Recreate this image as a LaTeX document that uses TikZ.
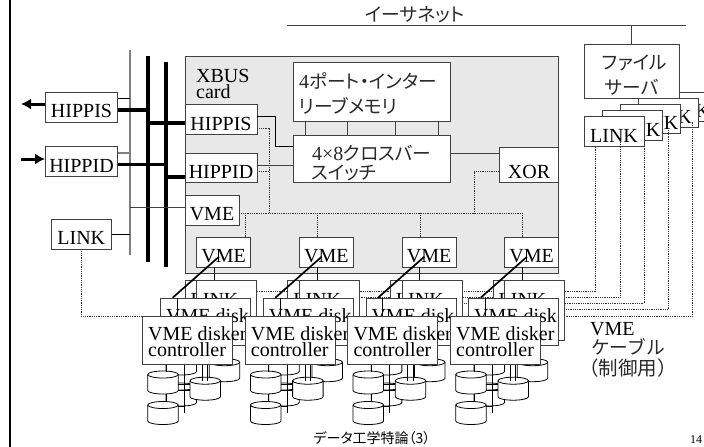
\documentclass[tikz,border=0pt]{standalone}
\usepackage{fontspec}
\setmainfont{Liberation Serif}
\newfontfamily\cjk[RawFeature=+palt]{Noto Sans CJK JP}
\newfontfamily\cjkfull{Noto Sans CJK JP}
\usepackage{xcolor}
\usetikzlibrary{arrows.meta,positioning}
\definecolor{cardgray}{HTML}{E8E8E8}
\definecolor{linegray}{HTML}{404040}
\definecolor{bargray}{HTML}{808080}
\definecolor{jptext}{HTML}{2A2A2A}
\newcommand{\jp}[1]{{\cjk\color{jptext}\fontsize{18.7}{18.7}\selectfont #1}}
\begin{document}
\begin{tikzpicture}[
  x=1pt,y=-1pt,
  base/.style={draw=linegray,line width=0.9pt,fill=white,inner sep=0pt,font=\fontsize{20}{20}\selectfont},
  lowbox/.style={base,text height=24pt,text depth=3pt},
  smallbox/.style={lowbox,minimum width=72pt,minimum height=29.5pt},
  vmebox/.style={lowbox,minimum width=54pt,minimum height=29.5pt},
  linkbox/.style={lowbox,minimum width=60pt,minimum height=29.5pt},
  ctrlbox/.style={base,minimum width=90pt,minimum height=47.5pt},
  word/.style={inner sep=0pt,font=\fontsize{20}{20}\selectfont},
  jpword/.style={inner sep=0pt},
  wire/.style={draw=black,line width=0.8pt},
  greywire/.style={draw=linegray,line width=1pt},
  dots/.style={draw=black!80,line width=0.8pt,dash pattern=on 0.9pt off 0.9pt},
  bus/.style={draw=black,line width=3.8pt},
  thin bus/.style={draw=bargray,line width=1.3pt},
  arr/.style={-{Latex[length=10pt,width=11pt]},line width=3pt,draw=black},
  pics/disk/.style={code={
    \draw[draw=black,line width=0.8pt,fill=white] (-15.25,-8) -- (-15.25,8)
      arc[start angle=180,end angle=360,x radius=15.25pt,y radius=3.5pt] -- (15.25,-8)
      arc[start angle=0,end angle=180,x radius=15.25pt,y radius=3.5pt];
    \draw[draw=black,line width=0.8pt] (-15.25,-8)
      arc[start angle=180,end angle=360,x radius=15.25pt,y radius=3.5pt];
  }}
]
\clip (0,0) rectangle (704,447);
\fill[white] (0,0) rectangle (704,447);
\draw[line width=2.6pt] (10,0) coordinate (railtop) -- (10,447) coordinate (railbot);

% ethernet
\coordinate (etherl) at (287,25.5);
\coordinate (etherr) at (686,25.5);
\draw[greywire] (etherl) -- (etherr);
\node[jpword] (ethertext) at (415,15) {\jp{イーサネット}};

% file server and its links
\node[linkbox] (flink5) at (686,107) {LINK};
\node[linkbox] (flink4) at (668,113) {LINK};
\node[linkbox] (flink3) at (650,119) {\hspace*{9pt}LINK};
\node[linkbox] (flink2) at (632,125.5) {\hspace*{9pt}LINK};
\node[linkbox] (flink1) at (614,131.5) {LINK};
\node[base,minimum width=95pt,minimum height=54pt] (server) at (631.5,71) {};
\node[jpword] (servera) at (634.5,63) {\jp{ファイル}};
\node[jpword] (serverb) at (631.5,87) {\jp{サーバ}};
\draw[greywire] (server.north |- etherl) -- (server.north);

% left side buses
\coordinate (busa) at (130,50);
\coordinate (busb) at (148,56);
\coordinate (busc) at (166,62);
\draw[thin bus] (busa) -- (130,255);
\draw[bus] (busb) -- (148,262);
\draw[bus] (busc) -- (166,267);

% left side adapters
\node[smallbox] (hippisout) at (81.5,107.25) {HIPPIS};
\node[smallbox] (hippidout) at (81.5,161.5) {HIPPID};
\node[linkbox] (linkout) at (81.3,234.25) {LINK};
\coordinate (outtip) at (21,104);
\coordinate (intail) at (21,159);
\draw[arr] (hippisout.west |- outtip) -- (outtip);
\draw[arr] (intail) -- (intail -| hippidout.west);
\draw[wire] (hippisout.east |- 0,98) -- (busa |- 0,98);
\draw[bus,line width=3.5pt] (hippisout.east |- 0,110) -- (busb |- 0,110);
\draw[thin bus] (hippidout.east |- 0,153) -- (busa |- 0,153);
\draw[bus,line width=3.5pt] (hippidout.east |- 0,164.5) -- (busc |- 0,164.5);
\draw[wire] (linkout.east) -- (linkout.east -| busa);

% xbus card
\node[draw=linegray,line width=1pt,fill=cardgray,inner sep=0pt,minimum width=373.7pt,minimum height=216.8pt] (card) at (371.85,164.9) {};
\node[word,anchor=base west] (xbustext) at (196,82.5) {XBUS};
\node[word,anchor=base west] (cardtext) at (196,98) {card};
\node[smallbox] (hippisin) at (221,119.5) {HIPPIS};
\node[smallbox] (hippidin) at (221,168) {HIPPID};
\node[vmebox] (vmein) at (212,210.25) {VME};
\node[base,minimum width=156.7pt,minimum height=59.4pt] (memory) at (371.65,92) {};
\node[base,minimum width=156.7pt,minimum height=47.3pt] (crossbar) at (371.65,158.65) {};
\node[jpword,anchor=west] (memorya) at (299,81) {\jp{\rmfamily\fontsize{20}{20}\selectfont 4\cjk\fontsize{18.7}{18.7}\selectfont ポート・インター}};
\node[jpword,anchor=west] (memoryb) at (299,106) {\jp{リーブメモリ}};
\node[jpword,anchor=west] (crossa) at (312,153) {\jp{\rmfamily\fontsize{20}{20}\selectfont 4×8\cjk\fontsize{18.7}{18.7}\selectfont クロスバー}};
\node[jpword,anchor=west] (crossb) at (311,173) {\jp{スイッチ}};
\node[lowbox,text height=31pt,minimum width=59.7pt,minimum height=35.5pt] (xor) at (529,164.75) {XOR};

\foreach \xp in {305,347.3,395.7,438.3}
  \draw[greywire] (memory.south -| \xp,0) -- (crossbar.north -| \xp,0);
\draw[wire] (hippisin.east |- 0,116.5) -| (275,146.7) -- (crossbar.west |- 0,146.7);
\draw[greywire] (hippidin.east |- 0,165) -- (crossbar.west |- 0,165);
\draw[greywire] (crossbar.east |- 0,153) -- (xor.west |- 0,153);
\draw[bus,line width=3.5pt] (busb |- 0,123) -- (hippisin.west |- 0,123);
\draw[bus,line width=3.5pt] (busc |- 0,177) -- (hippidin.west |- 0,177);
\draw[greywire] (busa |- 0,207) -- (vmein.west |- 0,207);

% dotted control lines on the card
\draw[dots] (vmein.east |- 0,213) -- (522.7,213);
\draw[dots] (hippisin.east |- 0,128) -- (269,128) -- (269,213);
\draw[dots] (hippidin.east |- 0,171) -- (269,171);
\draw[dots] (xor.west |- 0,171) -- (474,171) -- (474,213);
\foreach \xp in {245,317.5,420,522.7}
  \draw[dots] (\xp,213) -- (\xp,238);

% dotted vme cable, behind the stacks
\draw[dots] (linkout.south) |- (692.5,316) -- (flink5.south -| 692.5,0);
\draw[dots] (230,291.5) -- (595.5,291.5) -- (flink1.south -| 595.5,0);
\draw[dots] (330,297.5) -- (620,297.5) -- (flink2.south -| 620,0);
\draw[dots] (430,303.5) -- (644,303.5) -- (flink3.south -| 644,0);
\draw[dots] (530,309.5) -- (668.3,309.5) -- (flink4.south -| 668.3,0);

% the four disk groups
\foreach \i/\dx in {1/0,2/102.67,3/205.33,4/308} {
  \begin{scope}[xshift=\dx pt]
    \node[vmebox] (vme\i) at (223.7,252.2) {VME};
    \node[base,minimum width=60pt,minimum height=60pt] (linkback\i) at (215,310) {};
    \node[base,minimum width=60pt,minimum height=60pt] (linkfront\i) at (226.7,310) {};
    \node[word,anchor=base] (linktext\i) at (214.5,306) {LINK};
    \draw[wire] (vme\i.south -| 214.3,0) -- (linkfront\i.north -| 214.3,0);
    \node[base,minimum width=90pt,minimum height=47pt] (ctlback\i) at (205.7,321.8) {};
    \node[word,anchor=base west] (ctlbacktext\i) at (166,322) {VME disk};
    \draw[wire] (ctlback\i.north -| 177.5,0) -- (177.5,316.7);
    \draw[line width=1.7pt] (219,256.7) -- (172.7,297.7);
    % disks first, the controller covers their tops
    \pic at (181.3,363.5) {disk};
    \pic at (224.5,370.2) {disk};
    \pic at (181.3,394.5) {disk};
    \node[ctrlbox] (ctl\i) at (187.3,340.3) {};
    \node[word,anchor=base west] (ctltexta\i) at (148,340) {VME disker};
    \node[word,anchor=base west] (ctltextb\i) at (148,356.7) {controller};
    \draw[wire] (ctl\i.south -| 184.3,0) -- (184.3,412.7);
    \pic at (163,382.5) {disk};
    \pic at (205.2,388.7) {disk};
    \pic at (163,413) {disk};
    \draw[wire] (ctl\i.south -| 166,0) -- (166,371.5);
    \draw[wire] (166,394) -- (166,401.8);
    \draw[wire] (ctl\i.south -| 202.3,0) -- (202.3,381);
    \draw[wire] (ctl\i.south -| 207.7,0) -- (207.7,381);
    \draw[wire] (178.3,384) -- (190,384);
    \draw[wire] (178.3,390) -- (190,390);
    \draw[wire] (178.3,406) -- (184.3,406);
  \end{scope}
}

% labels round the edge
\node[word,anchor=base west] (vmetext) at (590,335) {VME};
\node[jpword] (cabletext) at (628,347) {{\cjkfull\color{jptext}\fontsize{18.7}{18.7}\selectfont ケーブル}};
\node[jpword] (usetext) at (628,368) {{\cjkfull\color{jptext}\fontsize{19.5}{19.5}\selectfont （制御用）}};
\node[jpword] (footer) at (372,438) {\cjk\fontsize{14}{14}\selectfont データ工学特論（3）};
\node[inner sep=0pt,font=\fontsize{12}{12}\selectfont] (pagenum) at (696,440) {14};
\end{tikzpicture}
\end{document}
